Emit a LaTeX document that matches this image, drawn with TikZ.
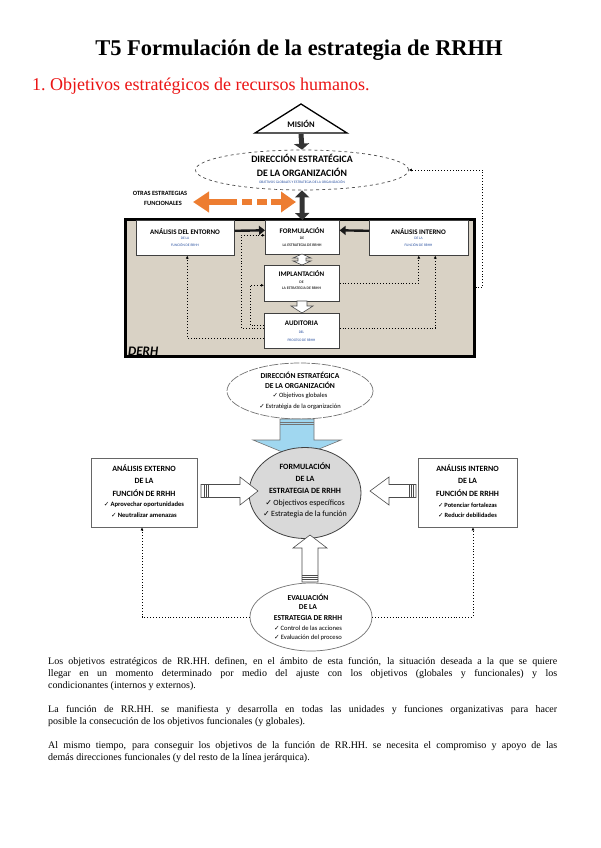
\documentclass[tikz,border=0pt]{standalone}
\usepackage{fontspec}
\setmainfont{Liberation Serif}
\newfontfamily\carl{Carlito}
\newfontfamily\dvf{DejaVu Sans}
\usetikzlibrary{arrows.meta,shapes.geometric,calc}
\newcommand\ck{{\dvf\char"2713}\,}
\definecolor{derhbg}{RGB}{217,210,197}
\definecolor{orangeA}{RGB}{237,125,49}
\definecolor{lblue}{RGB}{160,215,240}
\definecolor{gell}{RGB}{217,217,217}
\definecolor{tinyblue}{RGB}{40,80,160}
\definecolor{redh}{RGB}{235,20,20}
\tikzset{
  tbox/.style={draw=black!75, fill=white, line width=0.6pt, inner sep=0pt, anchor=north west},
  hdrs/.style={font=\carl\bfseries\fontsize{7}{8}\selectfont, inner sep=0pt},
  hdrm/.style={font=\carl\bfseries\fontsize{8}{9}\selectfont, inner sep=0pt},
  tinyt/.style={font=\carl\fontsize{3.6}{4}\selectfont, text=tinyblue, inner sep=0pt},
  tinyd/.style={font=\carl\bfseries\fontsize{3.8}{4}\selectfont, text=black!80, inner sep=0pt},
  itm/.style={font=\carl\fontsize{7}{8}\selectfont, inner sep=0pt},
  dotl/.style={dotted, line width=0.9pt, -{Latex[length=3pt,width=3pt]}},
  thk/.style={line width=2.4pt, black!90, -{Triangle[length=6pt,width=9pt]}},
  blk/.style={line width=5pt, black!80},
  warr/.style={draw=black!70, fill=white, line width=0.6pt},
  para/.style={anchor=north west, inner sep=0pt, text width=509pt, align=justify, font=\fontsize{10}{12}\selectfont}
}
\begin{document}
\begin{tikzpicture}[x=1pt,y=-1pt]
\useasboundingbox (0,0) rectangle (600,848);
\fill[white] (0,0) rectangle (600,848);

% headings
\node[font=\bfseries\fontsize{22.5}{25}\selectfont, inner sep=0pt] (title) at (299,50) {T5 Formulación de la estrategia de RRHH};
\node[font=\fontsize{18}{20}\selectfont, text=redh, anchor=west, inner sep=0pt] (sec) at (32,86) {1.\ Objetivos estratégicos de recursos humanos.};

% ---------- top diagram ----------
\draw[line width=1.3pt, fill=white] (255,133) -- (301,104) -- (347,133) -- cycle;
\node[font=\carl\bfseries\fontsize{8.5}{9}\selectfont, inner sep=0pt] (mision) at (301,124) {MISIÓN};

\node[ellipse, draw=black!70, dashed, line width=0.7pt, minimum width=213pt, minimum height=40pt, inner sep=0pt] (dir1) at (302,170) {};
\node[font=\carl\bfseries\fontsize{9.8}{10}\selectfont, inner sep=0pt] (dir1a) at (302,158) {DIRECCIÓN ESTRATÉGICA};
\node[font=\carl\bfseries\fontsize{9.8}{10}\selectfont, inner sep=0pt] (dir1b) at (302,172) {DE LA ORGANIZACIÓN};
\node[tinyt] (dir1c) at (302,182.5) {OBJETIVOS GLOBALES Y ESTRATEGIA DE LA ORGANIZACIÓN};

\draw[blk, -{Triangle[length=6pt,width=15pt]}] (301,134) -- (dir1.north);

% DERH box
\node[draw=black, line width=2.5pt, fill=derhbg, minimum width=349pt, minimum height=137pt, anchor=north west, inner sep=0pt] (derh) at (124,218) {};
\node[font=\carl\bfseries\itshape\fontsize{13}{13}\selectfont, anchor=south west, inner sep=0pt] (derhl) at (128,356) {DERH};

\node[tbox, minimum width=98pt, minimum height=35pt] (entorno) at (136,220) {};
\node[tbox, minimum width=74pt, minimum height=34pt] (form1) at (265,220) {};
\node[tbox, minimum width=99pt, minimum height=35pt] (interno) at (369,220) {};
\node[tbox, minimum width=75pt, minimum height=36pt] (implant) at (264,265) {};
\node[tbox, minimum width=75pt, minimum height=35pt] (audit) at (264,313) {};

\node[hdrs] (ent1) at (185,231.5) {ANÁLISIS DEL ENTORNO};
\node[tinyt] (ent2) at (185,238.5) {DE LA};
\node[tinyt] (ent3) at (185,245) {FUNCIÓN DE RRHH};
\node[hdrs] (for1) at (302,230.5) {FORMULACIÓN};
\node[tinyd] (for2) at (302,238.5) {DE};
\node[tinyd] (for3) at (302,245) {LA ESTRATEGIA DE RRHH};
\node[hdrs] (int1) at (418.5,231.5) {ANÁLISIS INTERNO};
\node[tinyt] (int2) at (418.5,238.5) {DE LA};
\node[tinyt] (int3) at (418.5,245) {FUNCIÓN DE RRHH};
\node[hdrs] (imp1) at (301.5,274) {IMPLANTACIÓN};
\node[tinyd] (imp2) at (301.5,282) {DE};
\node[tinyd] (imp3) at (301.5,288.5) {LA ESTRATEGIA DE RRHH};
\node[hdrs] (aud1) at (301.5,323.5) {AUDITORIA};
\node[tinyt] (aud2) at (301.5,332) {DEL};
\node[tinyt] (aud3) at (301.5,340) {PROCESO DE RRHH};

\draw[blk, {Triangle[length=7pt,width=14pt]}-{Triangle[length=7pt,width=14pt]}] (dir1.south) -- (form1.north);

% orange arrow
\coordinate (oa) at (193,202);
\coordinate (ob) at (296,202);
\draw[orangeA, line width=6.5pt, dash pattern=on 29pt off 5pt on 10pt off 5pt on 10pt off 4pt on 20pt,
  {Triangle[length=16pt,width=20pt]}-{Triangle[length=15pt,width=20pt]}] (oa) -- (ob);
\node[font=\carl\bfseries\fontsize{6.4}{7}\selectfont, inner sep=0pt] (otras1) at (160,193) {OTRAS ESTRATEGIAS};
\node[font=\carl\bfseries\fontsize{6.4}{7}\selectfont, inner sep=0pt] (otras2) at (163,203) {FUNCIONALES};

% thick arrows into formulation
\draw[thk] ([yshift=7pt]entorno.east) -- ([yshift=7pt]form1.west);
\draw[thk] ([yshift=7pt]interno.west) -- ([yshift=7pt]form1.east);

% white arrows inside DERH
\draw[warr] (302,254) -- (311,258) -- (306,258) -- (306,261) -- (311,261) -- (302,265) -- (293,261) -- (298,261) -- (298,258) -- (293,258) -- cycle;
\draw[warr] (297,301) -- (307,301) -- (307,306) -- (313,306) -- (302,313) -- (291,306) -- (297,306) -- cycle;

% dotted feedback lines
\draw[dotl] ([yshift=2.5pt]audit.west) -- ++(-23,0) |- ([yshift=2pt]form1.west);
\draw[dotl] ([yshift=5.5pt]audit.west) -- ++(-14,0) |- ([yshift=-2pt]implant.west);
\draw[dotl] ([yshift=-7.5pt]audit.west) -| ([xshift=2pt]entorno.south);
\draw[dotl] (implant.east) -| (interno.south);
\draw[dotl] ([yshift=2.5pt]audit.east) -| ([xshift=16.5pt]interno.south);
\draw[dotl] (derh.east) -- ++(7,0) |- (dir1.east);

% ---------- bottom diagram ----------
\node[ellipse, draw=black!55, dash pattern=on 9pt off 1.5pt, line width=0.7pt, minimum width=146pt, minimum height=56pt, inner sep=0pt] (dir2) at (300,391) {};
\node[hdrm, font=\carl\bfseries\fontsize{7.6}{8}\selectfont] (dir2a) at (300,375) {DIRECCIÓN ESTRATÉGICA};
\node[hdrm, font=\carl\bfseries\fontsize{7.6}{8}\selectfont] (dir2b) at (300,385.5) {DE LA ORGANIZACIÓN};
\node[itm, font=\carl\fontsize{6.5}{7}\selectfont] (dir2c) at (300,396) {\ck Objetivos globales};
\node[itm, font=\carl\fontsize{6.5}{7}\selectfont] (dir2d) at (300,406.5) {\ck Estratégia de la organización};

% blue arrow
\draw[draw=black!55, fill=lblue, line width=0.6pt] (280,419) -- (314,419) -- (314,440) -- (341,440) -- (297,458) -- (253,440) -- (280,440) -- cycle;
\draw[black!55, line width=0.5pt] (280,422) -- (314,422) (280,424.5) -- (314,424.5);

\node[ellipse, draw=black!75, fill=gell, line width=0.8pt, minimum width=112pt, minimum height=91pt, inner sep=0pt] (form2) at (305,493) {};
\node[hdrm] (fo1) at (305,466) {FORMULACIÓN};
\node[hdrm] (fo2) at (305,479) {DE LA};
\node[hdrm] (fo3) at (305,490.5) {ESTRATEGIA DE RRHH};
\node[itm, font=\carl\fontsize{8}{9}\selectfont] (fo4) at (305,503) {\ck Objectivos específicos};
\node[itm, font=\carl\fontsize{8}{9}\selectfont] (fo5) at (305,514) {\ck Estrategia de la función};

\node[draw=black!60, fill=white, line width=0.8pt, minimum width=106pt, minimum height=69pt, inner sep=0pt] (ext) at (144,492.5) {};
\node[hdrm] (ex1) at (144,468) {ANÁLISIS EXTERNO};
\node[hdrm] (ex2) at (144,481) {DE LA};
\node[hdrm] (ex3) at (144,493) {FUNCIÓN DE RRHH};
\node[itm, font=\carl\bfseries\fontsize{6.6}{7}\selectfont] (ex4) at (144,505) {\ck Aprovechar oportunidades};
\node[itm, font=\carl\bfseries\fontsize{6.6}{7}\selectfont] (ex5) at (144,515) {\ck Neutralizar amenazas};

\node[draw=black!60, fill=white, line width=0.8pt, minimum width=99pt, minimum height=69pt, inner sep=0pt] (int) at (467.5,492.5) {};
\node[hdrm] (in1) at (467.5,468) {ANÁLISIS INTERNO};
\node[hdrm] (in2) at (467.5,481) {DE LA};
\node[hdrm] (in3) at (467.5,493) {FUNCIÓN DE RRHH};
\node[itm, font=\carl\bfseries\fontsize{6.4}{7}\selectfont] (in4) at (467.5,505) {\ck Potenciar fortalezas};
\node[itm, font=\carl\bfseries\fontsize{6.4}{7}\selectfont] (in5) at (467.5,515) {\ck Reducir debilidades};

% white block arrows
\draw[warr] (201,484.5) -- (240,484.5) -- (240,477) -- (258,491) -- (240,505) -- (240,497.5) -- (201,497.5) -- cycle;
\draw[black!70, line width=0.5pt] (204,484.5) -- (204,497.5) (206,484.5) -- (206,497.5) (208,484.5) -- (208,497.5);
\draw[warr] (416,484.5) -- (389,484.5) -- (389,477) -- (370,491) -- (389,505) -- (389,497.5) -- (416,497.5) -- cycle;
\draw[black!70, line width=0.5pt] (413,484.5) -- (413,497.5) (411,484.5) -- (411,497.5) (409,484.5) -- (409,497.5);
\draw[warr] (302,582) -- (302,548) -- (293,548) -- (310,535) -- (327,548) -- (318,548) -- (318,582) -- cycle;
\draw[black!70, line width=0.5pt] (302,575) -- (318,575) (302,577) -- (318,577) (302,579) -- (318,579);

\node[ellipse, draw=black!55, line width=0.7pt, minimum width=122pt, minimum height=68pt, inner sep=0pt] (eval) at (311,617) {};
\node[hdrm, font=\carl\bfseries\fontsize{7.6}{8}\selectfont] (ev1) at (308,597) {EVALUACIÓN};
\node[hdrm, font=\carl\bfseries\fontsize{7.6}{8}\selectfont] (ev2) at (308,607.5) {DE LA};
\node[hdrm, font=\carl\bfseries\fontsize{7.6}{8}\selectfont] (ev3) at (308,618) {ESTRATEGIA DE RRHH};
\node[itm, font=\carl\fontsize{6.6}{7}\selectfont] (ev4) at (308,628) {\ck Control de las acciones};
\node[itm, font=\carl\fontsize{6.6}{7}\selectfont] (ev5) at (308,637.5) {\ck Evaluación del proceso};

\draw[dotl] (eval.west) -| ([xshift=-2pt]ext.south);
\draw[dotl] (eval.east) -| ([xshift=5.5pt]int.south);

% ---------- paragraphs ----------
\node[para] (p1) at (48,657) {Los objetivos estratégicos de RR.HH. definen, en el ámbito de esta función, la situación deseada a la que se quiere\linebreak llegar en un momento determinado por medio del ajuste con los objetivos (globales y funcionales) y los\linebreak condicionantes (internos y externos).};
\node[para] (p2) at (48,705) {La función de RR.HH. se manifiesta y desarrolla en todas las unidades y funciones organizativas para hacer\linebreak posible la consecución de los objetivos funcionales (y globales).};
\node[para] (p3) at (48,741) {Al mismo tiempo, para conseguir los objetivos de la función de RR.HH. se necesita el compromiso y apoyo de las\linebreak demás direcciones funcionales (y del resto de la línea jerárquica).};
\end{tikzpicture}
\end{document}
